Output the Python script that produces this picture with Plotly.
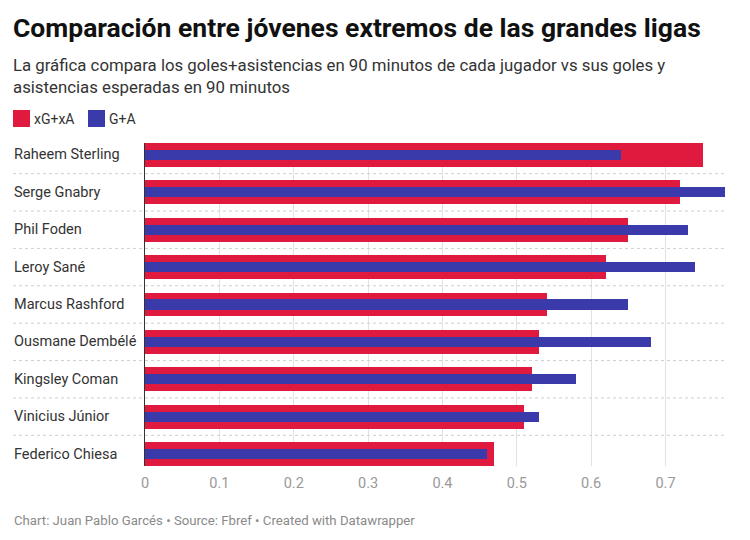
import plotly.graph_objects as go

players = ["Raheem Sterling", "Serge Gnabry", "Phil Foden", "Leroy Sané",
           "Marcus Rashford", "Ousmane Dembélé", "Kingsley Coman",
           "Vinicius Júnior", "Federico Chiesa"]
xg_xa = [0.75, 0.72, 0.65, 0.62, 0.54, 0.53, 0.52, 0.51, 0.47]
g_a = [0.64, 0.78, 0.73, 0.74, 0.65, 0.68, 0.58, 0.53, 0.46]
tick_vals = [0, 0.1, 0.2, 0.3, 0.4, 0.5, 0.6, 0.7]
tick_text = ["0", "0.1", "0.2", "0.3", "0.4", "0.5", "0.6", "0.7"]

RED = "#e01a3f"
BLUE = "#3a3aaa"
FONT = "Roboto"

W, H = 750, 540
L, R, T, B = 145, 25, 143, 74
PW, PH = W - L - R, H - T - B


def px(x):
    return (x - L) / PW


def py(y):
    return (H - B - y) / PH


fig = go.Figure()
fig.add_trace(go.Bar(y=players, x=xg_xa, orientation="h", width=0.64,
                     marker=dict(color=RED, line=dict(width=0)),
                     name="xG+xA", showlegend=False, hoverinfo="x+y"))
fig.add_trace(go.Bar(y=players, x=g_a, orientation="h", width=0.27,
                     marker=dict(color=BLUE, line=dict(width=0)),
                     name="G+A", showlegend=False, hoverinfo="x+y"))

shapes = []
for i in range(len(players) - 1):
    shapes.append(dict(type="line", xref="paper", yref="y",
                       x0=px(13), x1=px(727), y0=i + 0.5, y1=i + 0.5,
                       line=dict(color="#cfcfcf", width=1, dash="dot")))

# legend
shapes.append(dict(type="rect", xref="paper", yref="paper",
                   x0=px(13), x1=px(30), y0=py(127), y1=py(110),
                   fillcolor=RED, line=dict(width=0)))
shapes.append(dict(type="rect", xref="paper", yref="paper",
                   x0=px(88), x1=px(105), y0=py(127), y1=py(110),
                   fillcolor=BLUE, line=dict(width=0)))

annotations = []
for p in players:
    annotations.append(dict(text=p, xref="paper", yref="y", x=px(12), y=p,
                            xanchor="left", yanchor="middle", showarrow=False,
                            font=dict(family=FONT, size=14.5, color="#333333")))

annotations.append(dict(text="<b>Comparación entre jóvenes extremos de las grandes ligas</b>",
                        xref="paper", yref="paper", x=px(11), y=py(27),
                        xanchor="left", yanchor="middle", showarrow=False,
                        font=dict(family=FONT, size=26.5, color="#111111")))
annotations.append(dict(text="La gráfica compara los goles+asistencias en 90 minutos de cada jugador vs sus goles y<br>asistencias esperadas en 90 minutos",
                        xref="paper", yref="paper", x=px(11), y=py(76),
                        xanchor="left", yanchor="middle", showarrow=False, align="left",
                        font=dict(family=FONT, size=16.8, color="#333333")))
annotations.append(dict(text="xG+xA", xref="paper", yref="paper", x=px(32), y=py(118.5),
                        xanchor="left", yanchor="middle", showarrow=False,
                        font=dict(family=FONT, size=14, color="#333333")))
annotations.append(dict(text="G+A", xref="paper", yref="paper", x=px(107), y=py(118.5),
                        xanchor="left", yanchor="middle", showarrow=False,
                        font=dict(family=FONT, size=14, color="#333333")))
annotations.append(dict(text="Chart: Juan Pablo Garcés • Source: Fbref • Created with Datawrapper",
                        xref="paper", yref="paper", x=px(12), y=py(520),
                        xanchor="left", yanchor="middle", showarrow=False,
                        font=dict(family=FONT, size=13.2, color="#8a8a8a")))

fig.update_layout(
    width=W, height=H, margin=dict(l=L, r=R, t=T, b=B, pad=0),
    paper_bgcolor="white", plot_bgcolor="white",
    barmode="overlay", bargap=0,
    shapes=shapes, annotations=annotations,
    font=dict(family=FONT),
    xaxis=dict(range=[0, 0.78], tickvals=tick_vals, ticktext=tick_text,
               showgrid=True, gridcolor="#e2e2e2", gridwidth=1, zeroline=False,
               showline=False, ticks="outside", ticklen=4, tickcolor="rgba(0,0,0,0)",
               tickfont=dict(family=FONT, size=14.5, color="#999999"), fixedrange=True),
    yaxis=dict(categoryorder="array", categoryarray=players,
               range=[len(players) - 1 + 0.32, -0.32],
               showticklabels=False, showgrid=False, zeroline=False,
               showline=True, linecolor="#333333", linewidth=1, fixedrange=True),
)

fig.write_html("out.html")
